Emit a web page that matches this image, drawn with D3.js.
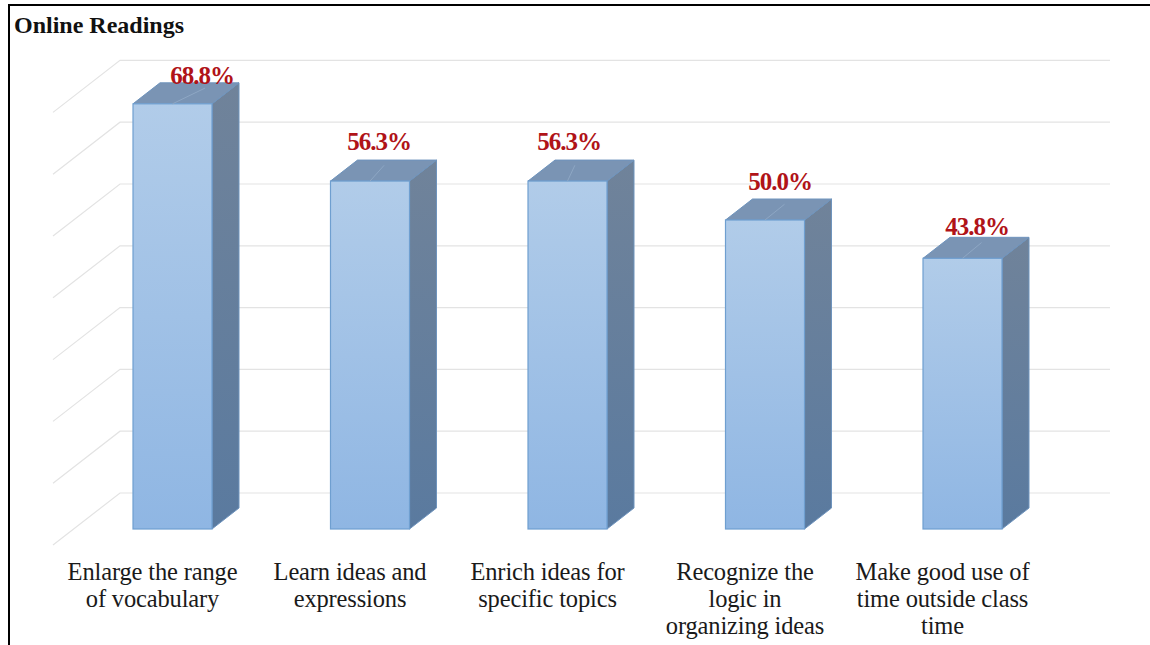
<!DOCTYPE html>
<html><head><meta charset="utf-8">
<script src="https://cdn.jsdelivr.net/npm/d3@7/dist/d3.min.js"></script>
<style>html,body{margin:0;padding:0;background:#fff}svg{display:block}text{font-family:"Liberation Serif",serif}</style>
</head><body><svg id="c" width="1150" height="645"></svg>
<script>
const categories = [
  ["Enlarge the range","of vocabulary"],
  ["Learn ideas and","expressions"],
  ["Enrich ideas for","specific topics"],
  ["Recognize the","logic in","organizing ideas"],
  ["Make good use of","time outside class","time"]
];
const values = [68.8,56.3,56.3,50.0,43.8];
const gridValues = [0,10,20,30,40,50,60,70];
const chartTitle = "Online Readings";
// manual data-label placement, relative to each bar's centre and top
const labelShiftX = [29.5,9,1.5,15,14.5];
const labelShiftY = [-20,-31,-31,-30,-23];

const svg = d3.select("#c");
const y = d3.scaleLinear().domain([0,70]).range([529,96.4]);
const x = d3.scalePoint().domain(d3.range(values.length)).range([172.5,962.5]);
const dx=27, dy=-21, bw=79;

const defs = svg.append("defs");
function grad(id,a,b){const g=defs.append("linearGradient").attr("id",id).attr("x1",0).attr("x2",0).attr("y1",0).attr("y2",1);
 g.append("stop").attr("offset",0).attr("stop-color",a);g.append("stop").attr("offset",1).attr("stop-color",b);}
grad("front","#b1cce9","#8fb6e3");
grad("side","#70839a","#5a7a9f");

// gridlines: floor-side stub then back wall
const gridG = svg.append("g").attr("fill","none").attr("stroke","#e3e3e3").attr("stroke-width",1.2);
gridValues.forEach(v=>{
  const yy=y(v)+16;
  gridG.append("path").attr("d",`M53,${yy} L120,${yy-52} L1110,${yy-52}`);
});

// bars
const bars = svg.selectAll("g.bar").data(values).join("g").attr("class","bar");
bars.append("path").attr("fill","url(#side)").attr("stroke","#6f94bd").attr("stroke-width",1)
  .attr("d",(d,i)=>{const r=x(i)+bw/2;return `M${r},${y(d)} L${r+dx},${y(d)+dy} L${r+dx},${y(0)+dy} L${r},${y(0)} Z`;});
bars.append("path").attr("fill","#7a94b4").attr("stroke","#6f94bd").attr("stroke-width",1)
  .attr("d",(d,i)=>{const l=x(i)-bw/2,r=x(i)+bw/2;return `M${l},${y(d)} L${l+dx},${y(d)+dy} L${r+dx},${y(d)+dy} L${r},${y(d)} Z`;});
bars.append("rect").attr("fill","url(#front)").attr("stroke","#6f9fd0").attr("stroke-width",1.2)
  .attr("x",(d,i)=>x(i)-bw/2).attr("y",d=>y(d)).attr("width",bw).attr("height",d=>y(0)-y(d));
// leader lines across the top face
bars.append("line").attr("stroke","#8ea7c4").attr("stroke-width",1)
  .attr("x1",(d,i)=>x(i)).attr("y1",d=>y(d))
  .attr("x2",(d,i)=>x(i)+labelShiftX[i]*0.9+6).attr("y2",d=>y(d)+dy*0.75);

// value labels
svg.selectAll("text.val").data(values).join("text").attr("class","val")
  .attr("x",(d,i)=>x(i)+labelShiftX[i]).attr("y",(d,i)=>y(d)+labelShiftY[i])
  .attr("text-anchor","middle").attr("font-weight","bold").attr("font-size",25).attr("letter-spacing",-1).attr("fill","#b01318")
  .text(d=>d.toFixed(1)+"%");

// category labels
categories.forEach((lines,i)=>{
  const t=svg.append("text").attr("text-anchor","middle").attr("font-size",24.5).attr("letter-spacing",-0.15).attr("fill","#1a1a1a");
  lines.forEach((s,j)=>t.append("tspan").attr("x",x(i)-20).attr("y",580+j*27).text(s));
});

svg.append("text").attr("x",14).attr("y",33).attr("font-size",24).attr("font-weight","bold").attr("fill","#111").text(chartTitle);

// frame
svg.append("path").attr("fill","none").attr("stroke","#000").attr("stroke-width",2)
  .attr("d",`M9,645 L9,5 L1150,5`);
</script></body></html>
